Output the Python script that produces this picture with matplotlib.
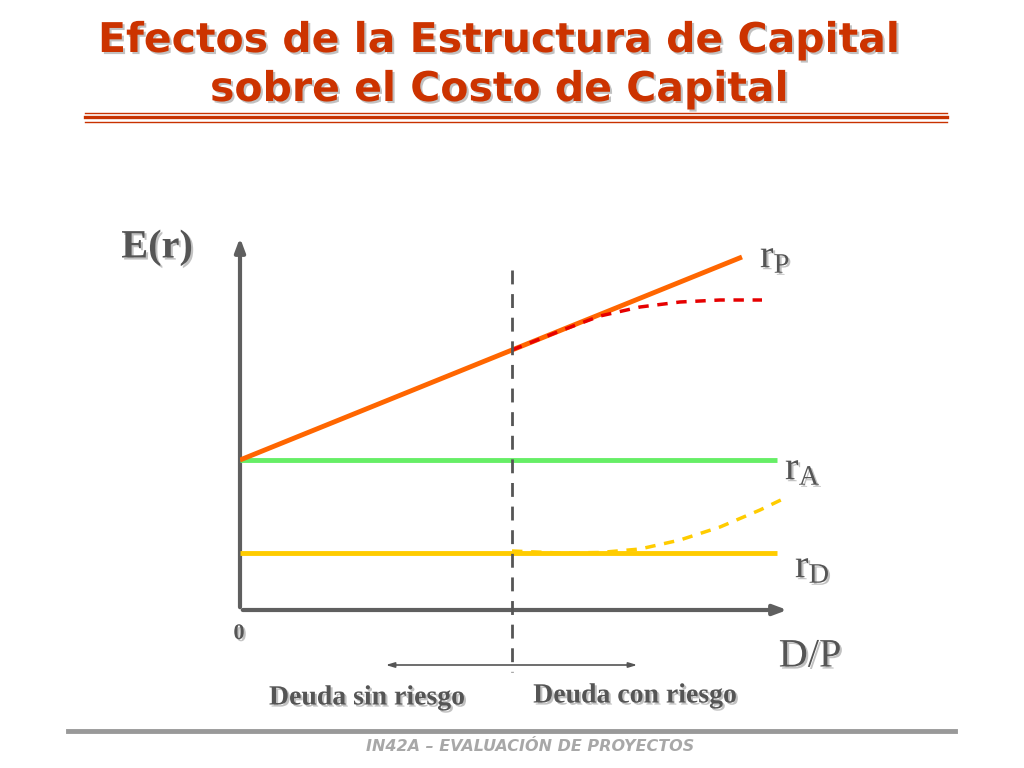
import matplotlib
matplotlib.use("Agg")
import matplotlib.pyplot as plt
import matplotlib.patheffects as pe

plt.rcParams['mathtext.fontset'] = 'custom'
plt.rcParams['mathtext.rm'] = 'Liberation Serif'
plt.rcParams['mathtext.it'] = 'Liberation Serif:italic'

# chart values (D/P on x, E(r) on y, arbitrary units)
r_A = 3.0
r_D = 1.14
flat_x = [0, 5.37]

rp_x = [0, 5.02]
rp_y = [3.0, 7.06]

# rP with risky debt (red dashed)
rp_risky_x = [2.72, 3.2, 3.6, 4.0, 4.4, 4.8, 5.22]
rp_risky_y = [5.2, 5.58, 5.88, 6.06, 6.16, 6.2, 6.2]

# rD with risky debt (yellow dashed)
rd_risky_x = [2.72, 3.2, 3.6, 4.0, 4.4, 4.8, 5.2, 5.45]
rd_risky_y = [1.18, 1.14, 1.15, 1.22, 1.40, 1.66, 2.0, 2.24]

risk_limit = 2.72

title_lines = ["Efectos de la Estructura de Capital", "sobre el Costo de Capital"]
footer = "IN42A – EVALUACIÓN DE PROYECTOS"

fig = plt.figure(figsize=(10.24, 7.68), dpi=100)
fig.patch.set_facecolor('white')

shadow = [pe.withSimplePatchShadow(offset=(1.5, -1.5), shadow_rgbFace='#999999', alpha=0.6)]

# title (two lines)
for line, ypix in zip(title_lines, [41, 90]):
    fig.text(0.488, 1 - ypix / 768, line, ha='center', va='center', fontsize=29.5,
             fontweight='bold', color='#CC3300', family='DejaVu Sans', path_effects=shadow)

# decorative lines under the title and above footer
deco = fig.add_axes([0, 0, 1, 1], zorder=-1)
deco.set_xlim(0, 1024)
deco.set_ylim(768, 0)
deco.axis('off')
deco.plot([85, 947], [113, 113], color='#C83200', lw=1.0)
deco.plot([85, 947], [117, 117], color='#C83200', lw=2.4)
deco.plot([85, 947], [121.5, 121.5], color='#C83200', lw=1.0)
deco.plot([68, 955], [731, 731], color='#999999', lw=3.5)
fig.text(0.518, 0.028, footer, ha='center', va='center', fontsize=11.5, fontweight='bold',
         style='italic', color='#A8A8A8', family='DejaVu Sans')

# main chart
ax = fig.add_axes([240 / 1024, (768 - 610) / 768, 550 / 1024, 375 / 768])
ax.set_xlim(0, 5.5)
ax.set_ylim(0, 7.5)
ax.axis('off')

axis_col = '#5f5f5f'
ax.annotate('', xy=(0, 1), xytext=(0, 0), xycoords='axes fraction',
            arrowprops=dict(arrowstyle='-|>,head_length=0.8,head_width=0.3', color=axis_col, lw=3))
ax.annotate('', xy=(1, 0), xytext=(0, 0), xycoords='axes fraction',
            arrowprops=dict(arrowstyle='-|>,head_length=0.8,head_width=0.3', color=axis_col, lw=3))

ax.plot(flat_x, [r_A, r_A], color='#66EE66', lw=3.5, solid_capstyle='butt', zorder=3)
ax.plot(flat_x, [r_D, r_D], color='#FFCC00', lw=3.5, solid_capstyle='butt', zorder=3)
ax.plot(rp_x, rp_y, color='#FF6600', lw=3.5, solid_capstyle='butt', zorder=4)
ax.plot(rp_risky_x, rp_risky_y, color='#E60000', lw=2.5, ls=(0, (3, 2.5)), zorder=5)
ax.plot(rd_risky_x, rd_risky_y, color='#FFCC00', lw=2.5, ls=(0, (3, 2.5)), zorder=5)

# boundary between riskless and risky debt, drawn top-down so it starts with a dash
ax.plot([risk_limit, risk_limit], [6.8, -1.24], color='#555555', lw=2, ls=(0, (5, 3.5)),
        clip_on=False, zorder=6)

ax.annotate('', xy=(1.43, -1.1), xytext=(4.0, -1.1), xycoords='data',
            arrowprops=dict(arrowstyle='<|-|>,head_length=0.5,head_width=0.15', color='#555555', lw=1.2),
            annotation_clip=False)

txt = dict(color='#555555', family='Liberation Serif', path_effects=shadow, clip_on=False)
ax.text(-0.83, 7.24, 'E(r)', ha='center', va='center', fontsize=29, fontweight='bold', **txt)
ax.text(5.2, 7.04, r'$\mathrm{r_P}$', ha='left', va='center', fontsize=29, **txt)
ax.text(5.45, 2.8, r'$\mathrm{r_A}$', ha='left', va='center', fontsize=29, **txt)
ax.text(5.55, 0.84, r'$\mathrm{r_D}$', ha='left', va='center', fontsize=29, **txt)
ax.text(-0.01, -0.48, '0', ha='center', va='center', fontsize=16, fontweight='bold', **txt)
ax.text(5.7, -0.94, 'D/P', ha='center', va='center', fontsize=29, **txt)
ax.text(1.27, -1.76, 'Deuda sin riesgo', ha='center', va='center', fontsize=20, fontweight='bold', **txt)
ax.text(3.95, -1.72, 'Deuda con riesgo', ha='center', va='center', fontsize=20, fontweight='bold', **txt)

fig.savefig('out.png', dpi=100)
